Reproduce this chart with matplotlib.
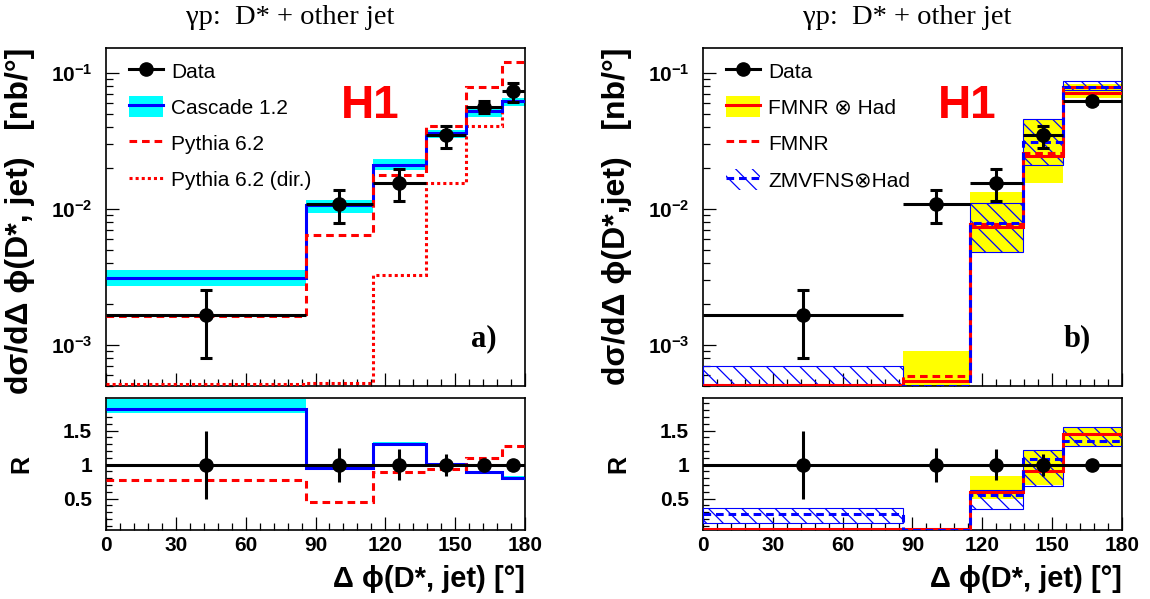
import numpy as np
import matplotlib
matplotlib.use('Agg')
from matplotlib import pyplot as plt
from matplotlib.lines import Line2D
from matplotlib.patches import Patch
from matplotlib.ticker import FixedLocator, MultipleLocator, LogLocator, NullFormatter, FuncFormatter

plt.rcParams['font.family'] = ['Liberation Sans', 'DejaVu Sans']
plt.rcParams['mathtext.fontset'] = 'custom'
plt.rcParams['mathtext.rm'] = 'Liberation Sans:bold'
plt.rcParams['mathtext.bf'] = 'Liberation Sans:bold'
plt.rcParams['mathtext.it'] = 'Liberation Sans:bold'
plt.rcParams['hatch.linewidth'] = 0.9
plt.rcParams['axes.linewidth'] = 1.2

# --- panel a): D* + other jet, Cascade / Pythia ---
edges_a = [0, 86, 114.6, 137.5, 154.7, 170, 180]
data_a = [1.67e-3, 0.0108, 0.0155, 0.0347, 0.0562, 0.0733]
data_a_up = [2.55e-3, 0.0137, 0.0197, 0.0407, 0.062, 0.0835]
data_a_dn = [8.0e-4, 0.0079, 0.0115, 0.0278, 0.051, 0.061]
cascade = [3.13e-3, 0.0107, 0.0209, 0.0358, 0.0523, 0.062]
cascade_hi = [3.58e-3, 0.0116, 0.0231, 0.0379, 0.0569, 0.0649]
cascade_lo = [2.72e-3, 0.00925, 0.0192, 0.0330, 0.0474, 0.0569]
pythia = [1.64e-3, 6.4e-3, 0.0177, 0.0405, 0.078, 0.119]
pythia_dir = [5.2e-4, 5.3e-4, 3.29e-3, 0.0156, 0.0405, 0.062]

r_err_a = [0.5, 0.25, 0.23, 0.16, 0.07, 0.08]
r_cascade = [1.82, 0.95, 1.31, 1.01, 0.89, 0.81]
r_cascade_hi = [1.96, 0.97, 1.33, 1.03, 0.91, 0.83]
r_cascade_lo = [1.76, 0.93, 1.29, 0.99, 0.87, 0.79]
r_pythia = [0.77, 0.45, 0.89, 0.93, 1.10, 1.28]

# --- panel b): NLO comparisons ---
edges_b = [0, 86, 114.6, 137.5, 154.7, 180]
data_b = [1.67e-3, 0.0108, 0.0155, 0.0347, 0.062]
data_b_up = [2.55e-3, 0.0137, 0.0197, 0.0407, 0.065]
data_b_dn = [8.0e-4, 0.0079, 0.0115, 0.0278, 0.059]
fmnr_had = [5.05e-4, 5.4e-4, 7.4e-3, 0.0244, 0.0713]
fmnr_had_hi = [4.0e-4, 9.1e-4, 0.0133, 0.0457, 0.083]
fmnr_had_lo = [1.0e-5, 1.0e-4, 4.8e-3, 0.0154, 0.065]
fmnr = [5.05e-4, 5.96e-4, 7.8e-3, 0.0258, 0.079]
zmvfns = [4.6e-4, 5.0e-4, 7.9e-3, 0.031, 0.0789]
zmvfns_hi = [6.97e-4, 4.9e-4, 0.0111, 0.0457, 0.0873]
zmvfns_lo = [2.4e-4, 3.0e-4, 4.8e-3, 0.0209, 0.0746]

r_err_b = [0.5, 0.25, 0.23, 0.16, 0.04]
r_fmnr_had = [0.05, 0.05, 0.60, 0.90, 1.45]
r_fmnr_had_hi = [0.0, 0.0, 0.84, 1.21, 1.55]
r_fmnr_had_lo = [0.0, 0.0, 0.50, 0.70, 1.27]
r_zmvfns = [0.27, 0.045, 0.55, 1.085, 1.35]
r_zmvfns_hi = [0.37, 0.0, 0.63, 1.21, 1.55]
r_zmvfns_lo = [0.14, 0.0, 0.35, 0.69, 1.27]

title = 'γp:  D* + other jet'
x_title = 'Δ ϕ(D*, jet) [°]'

LW = 2.2
DASH = (0, (2.5, 1.6))
DOT = (0, (1, 1))
HATCH = '\\\\'


def centers_widths(edges):
    e = np.array(edges, dtype=float)
    return 0.5 * (e[1:] + e[:-1]), np.diff(e)


def draw_data(ax, edges, vals, up, dn):
    x, w = centers_widths(edges)
    vals = np.array(vals)
    ax.errorbar(x, vals, xerr=w / 2, fmt='none', ecolor='k', elinewidth=LW, capsize=0, zorder=10)
    ax.errorbar(x, vals, yerr=[vals - np.array(dn), np.array(up) - vals], fmt='o', color='k',
                ms=9.5, elinewidth=LW, capsize=4.3, capthick=LW, zorder=11)


def draw_ratio_data(ax, edges, err):
    x, _ = centers_widths(edges)
    ax.axhline(1.0, color='k', lw=LW, zorder=10)
    ax.errorbar(x, np.ones(len(x)), yerr=err, fmt='o', color='k', ms=9.5, elinewidth=LW,
                capsize=0, zorder=11)


def hatch_boxes(ax, edges, lo, hi):
    e = np.array(edges, dtype=float)
    lo, hi = np.array(lo), np.array(hi)
    keep = hi > lo
    ax.bar(e[:-1][keep], (hi - lo)[keep], width=np.diff(e)[keep], bottom=lo[keep], align='edge',
           facecolor='none', edgecolor='blue', hatch=HATCH, linewidth=0.8, zorder=4)


def style_axes(top, bot, ylabel):
    for ax in (top, bot):
        ax.set_xlim(0, 180)
        ax.xaxis.set_major_locator(MultipleLocator(30))
        ax.xaxis.set_minor_locator(MultipleLocator(6))
        ax.tick_params(which='both', direction='in', top=False, right=False, width=0.9,
                       labelsize=15)
        ax.tick_params(which='major', length=9.4)
        ax.tick_params(which='minor', length=5)
        ax.tick_params(axis='y', pad=10)
        ax.tick_params(axis='x', pad=4)
    top.set_yscale('log')
    top.set_ylim(5e-4, 0.152)
    top.yaxis.set_major_locator(FixedLocator([1e-3, 1e-2, 1e-1]))
    top.yaxis.set_major_formatter(FuncFormatter(lambda v, p: r'$\mathbf{10^{%d}}$' % round(np.log10(v))))
    top.yaxis.set_minor_locator(LogLocator(base=10, subs=np.arange(2, 10)))
    top.yaxis.set_minor_formatter(NullFormatter())
    top.tick_params(axis='x', labelbottom=False)
    top.set_ylabel(ylabel, loc='top', fontsize=23, fontweight='bold')
    top.yaxis.set_label_coords(-0.186, 1.0)
    top.yaxis.label.set_verticalalignment('baseline')

    bot.set_ylim(0.04, 1.98)
    bot.yaxis.set_major_locator(FixedLocator([0.5, 1.0, 1.5]))
    bot.yaxis.set_major_formatter(FuncFormatter(lambda v, p: '%g' % v))
    bot.yaxis.set_minor_locator(MultipleLocator(0.1))
    bot.tick_params(axis='y', which='major', length=8.6)
    bot.tick_params(axis='y', which='minor', length=4.3)
    bot.set_ylabel('R', fontsize=18, fontweight='bold')
    bot.yaxis.set_label_coords(-0.186, 0.5)
    bot.yaxis.label.set_verticalalignment('baseline')
    bot.set_xlabel(x_title, loc='right', fontsize=21, fontweight='bold')
    bot.xaxis.set_label_coords(1.0, -0.43)
    bot.xaxis.label.set_verticalalignment('baseline')


def add_legend(ax, handles, labels):
    ax.legend(handles, labels, loc='upper left', bbox_to_anchor=(0.056, 0.965), frameon=False,
              fontsize=15, handlelength=1.6, handleheight=1.2, handletextpad=0.4,
              labelspacing=0.7, borderpad=0, borderaxespad=0)


fig = plt.figure(figsize=(11.5, 5.99), dpi=100)
ax_a = fig.add_axes([0.0922, 0.3556, 0.3643, 0.5643])
ax_ar = fig.add_axes([0.0922, 0.1152, 0.3643, 0.2204])
ax_b = fig.add_axes([0.6113, 0.3556, 0.3643, 0.5643])
ax_br = fig.add_axes([0.6113, 0.1152, 0.3643, 0.2204])

# panel a
ax_a.stairs(cascade_hi, edges_a, baseline=cascade_lo, fill=True, color='cyan', lw=0, zorder=2)
ax_a.stairs(pythia_dir, edges_a, baseline=None, color='red', lw=LW, linestyle=DOT, zorder=3)
ax_a.stairs(cascade, edges_a, baseline=None, color='blue', lw=LW, zorder=4)
ax_a.stairs(pythia, edges_a, baseline=None, color='red', lw=LW, linestyle=DASH, zorder=5)
draw_data(ax_a, edges_a, data_a, data_a_up, data_a_dn)

ax_ar.stairs(r_cascade_hi, edges_a, baseline=r_cascade_lo, fill=True, color='cyan', lw=0, zorder=2)
ax_ar.stairs(r_cascade, edges_a, baseline=None, color='blue', lw=LW, zorder=3)
ax_ar.stairs(r_pythia, edges_a, baseline=None, color='red', lw=LW, linestyle=DASH, zorder=4)
draw_ratio_data(ax_ar, edges_a, r_err_a)

# panel b
ax_b.stairs(fmnr_had_hi, edges_b, baseline=fmnr_had_lo, fill=True, color='yellow', lw=0, zorder=2)
hatch_boxes(ax_b, edges_b, zmvfns_lo, zmvfns_hi)
ax_b.stairs(fmnr_had, edges_b, baseline=None, color='red', lw=LW, zorder=5)
ax_b.stairs(fmnr, edges_b, baseline=None, color='red', lw=LW, linestyle=DASH, zorder=5)
ax_b.stairs(zmvfns, edges_b, baseline=None, color='blue', lw=LW, linestyle=DASH, zorder=6)
draw_data(ax_b, edges_b, data_b, data_b_up, data_b_dn)

ax_br.stairs(r_fmnr_had_hi, edges_b, baseline=r_fmnr_had_lo, fill=True, color='yellow', lw=0, zorder=2)
hatch_boxes(ax_br, edges_b, r_zmvfns_lo, r_zmvfns_hi)
ax_br.stairs(r_fmnr_had, edges_b, baseline=None, color='red', lw=LW, zorder=5)
ax_br.stairs(r_zmvfns, edges_b, baseline=None, color='blue', lw=LW, linestyle=DASH, zorder=6)
draw_ratio_data(ax_br, edges_b, r_err_b)

style_axes(ax_a, ax_ar, 'dσ/dΔ ϕ(D*, jet)   [nb/°]')
style_axes(ax_b, ax_br, 'dσ/dΔ ϕ(D*,jet)   [nb/°]')
for ax in (ax_a, ax_ar, ax_b, ax_br):
    for lab in ax.get_xticklabels() + ax.get_yticklabels():
        lab.set_fontweight('bold')

data_h = Line2D([], [], color='k', marker='o', ms=9.5, lw=LW)
add_legend(ax_a,
           [data_h,
            (Patch(facecolor='cyan', lw=0), Line2D([], [], color='blue', lw=LW)),
            Line2D([], [], color='red', lw=LW, linestyle=DASH),
            Line2D([], [], color='red', lw=LW, linestyle=DOT)],
           ['Data', 'Cascade 1.2', 'Pythia 6.2', 'Pythia 6.2 (dir.)'])
add_legend(ax_b,
           [data_h,
            (Patch(facecolor='yellow', lw=0), Line2D([], [], color='red', lw=LW)),
            Line2D([], [], color='red', lw=LW, linestyle=DASH),
            (Patch(facecolor='none', edgecolor='blue', hatch=HATCH, lw=0),
             Line2D([], [], color='blue', lw=LW, linestyle=DASH))],
           ['Data', 'FMNR ⊗ Had', 'FMNR', 'ZMVFNS⊗Had'])

for ax, lab, lx in ((ax_a, 'a)', 0.902), (ax_b, 'b)', 0.894)):
    ax.text(0.63, 0.828, 'H1', transform=ax.transAxes, color='red', fontsize=33,
            fontweight='bold', ha='center', va='center')
    ax.text(lx, 0.141, lab, transform=ax.transAxes, fontsize=22, fontweight='bold',
            family='Liberation Serif', ha='center', va='center')

fig.text(290 / 1150, 1 - 18 / 599, title, family='Liberation Serif', fontsize=20.5,
         ha='center', va='center')
fig.text(907 / 1150, 1 - 18 / 599, title, family='Liberation Serif', fontsize=20.5,
         ha='center', va='center')

fig.savefig('out.png', dpi=100)
